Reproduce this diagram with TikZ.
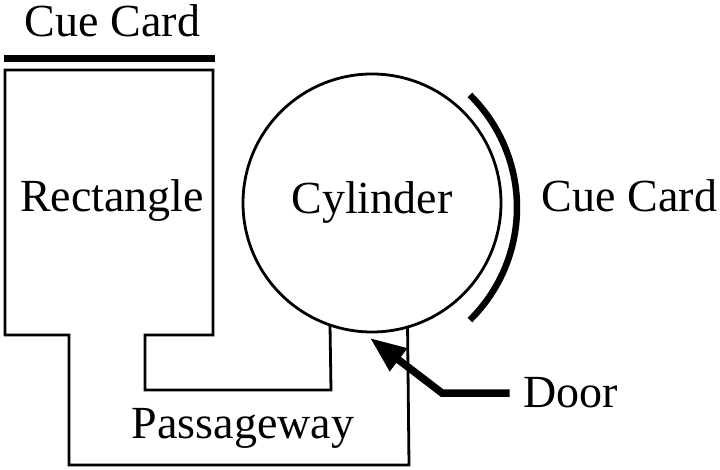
\documentclass[tikz,border=0pt]{standalone}
\usepackage{fontspec}
\setmainfont{Liberation Serif}
\usetikzlibrary{arrows.meta,calc}
\begin{document}
\begin{tikzpicture}[x=1pt,y=1pt,
  lbl/.style={inner sep=0pt,font=\fontsize{46}{50}\selectfont},
  wall/.style={line width=2.8pt,line join=miter},
  card/.style={line width=7pt},
  doorarrow/.style={line width=7.5pt,line join=miter,-{Triangle[length=36pt,width=27pt]}}]
\useasboundingbox (0,0) rectangle (720,469);
% cylinder
\node[wall,draw,circle,minimum size=258pt,inner sep=0pt,outer sep=0pt,
      font=\fontsize{46}{50}\selectfont] (cyl) at (372,266) {Cylinder};
% rectangle and passageway walls
\draw[wall] (cyl.251.5) -- (331,79) -- (145,79) -- (145,134) -- (213,134)
  -- (213,399) -- (5,399) -- (5,134) -- (69,134) -- (69,4) -- (409,4) -- (cyl.286.7);
% cue cards
\coordinate (cardA) at (4,410.5);
\coordinate (cardB) at (215,410.5);
\draw[card] (cardA) -- (cardB);
\coordinate (arcc) at (359,261.5);
\draw[card,line width=6.5pt] ($(arcc)+(45.4:158)$) arc[start angle=45.4,end angle=-45.4,radius=158];
% labels
\node[lbl,anchor=base] (cuetop) at (112.5,432) {Cue Card};
\node[lbl,anchor=base] (rect) at (112,257) {Rectangle};
\node[lbl,anchor=base] (cueright) at (629.5,257) {Cue Card};
\node[lbl,anchor=base] (pass) at (243,31) {Passageway};
\node[lbl,anchor=base] (door) at (571,62) {Door};
% door arrow
\coordinate (bend) at (442,76);
\coordinate (tip) at (370,131);
\draw[doorarrow] ([xshift=-14pt]door.west |- bend) -- (bend) -- (tip);
\end{tikzpicture}
\end{document}
